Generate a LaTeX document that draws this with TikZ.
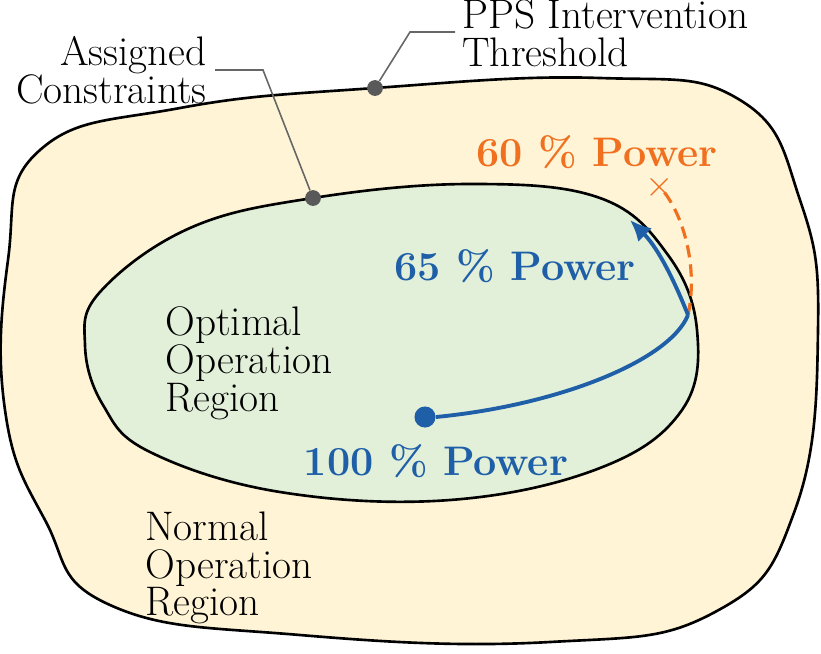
\documentclass[tikz,border=0pt]{standalone}
\usetikzlibrary{arrows.meta}
\begin{document}
\begin{tikzpicture}[x=0.02cm,y=-0.02cm,
  lbl/.style={font=\fontsize{23.5}{21.5}\selectfont,inner sep=0pt},
  pw/.style={lbl,font=\fontsize{23.5}{21.5}\selectfont\bfseries},
  leader/.style={draw=gray!80!black,line width=0.9pt},
  dotc/.style={circle,fill=gray!70!black,inner sep=0pt,minimum size=9pt}]
\definecolor{outerc}{HTML}{FFF4D5}
\definecolor{innerc}{HTML}{E2F0D9}
\definecolor{bluec}{HTML}{1F5FA8}
\definecolor{orangec}{HTML}{F07020}
\useasboundingbox (0,0) rectangle (821,653);
\draw[line width=1.5pt,fill=outerc] plot[smooth cycle,tension=0.75] coordinates
 {(40,150) (180,108) (375,88) (600,78) (740,100) (800,200) (818,330) (795,510) (715,612) (550,642) (300,635) (110,605) (45,520) (5,410) (8,260)};
\draw[line width=1.5pt,fill=innerc] plot[smooth cycle,tension=0.65] coordinates
 {(100,292) (190,228) (313,198) (470,184) (600,198) (668,255) (697,330) (682,410) (600,468) (450,500) (280,492) (150,452) (103,405) (85,345)};
\coordinate (br) at (688,315);
\node[circle,fill=bluec,inner sep=0pt,minimum size=12pt] (start) at (425,417) {};
\coordinate (tip) at (630,220);
\coordinate (ox) at (660,187);
\draw[orangec,line width=1.8pt,dash pattern=on 7pt off 4pt] (br) .. controls (698,270) and (685,215) .. (ox);
\node[orangec,font=\fontsize{20}{20}\selectfont] (cross) at (ox) {$\times$};
\draw[bluec,line width=2.2pt] (start.east) .. controls (560,405) and (670,360) .. (br);
\draw[bluec,line width=2.2pt,-{Latex[length=12pt,width=11pt]}] (br) .. controls (670,270) and (655,245) .. (tip);
\node[pw,text=orangec] (p60) at (597,152) {60 \% Power};
\node[pw,text=bluec] (p65) at (515,266) {65 \% Power};
\node[pw,text=bluec] (p100) at (436,461) {100 \% Power};
\node[lbl,align=left,anchor=west] (opt) at (165,363) {Optimal\\Operation\\Region};
\node[lbl,align=left,anchor=west] (norm) at (145,568) {Normal\\Operation\\Region};
\node[lbl,align=right,anchor=east] (ac) at (207,70) {Assigned\\Constraints};
\node[lbl,align=left,anchor=west] (pps) at (462,33) {PPS Intervention\\Threshold};
\node[dotc] (d1) at (313,198) {};
\node[dotc] (d2) at (375,88) {};
\draw[leader] (d1) -- (263,70) -- (215,70);
\draw[leader] (d2) -- (410,32) -- (455,32);
\end{tikzpicture}
\end{document}
